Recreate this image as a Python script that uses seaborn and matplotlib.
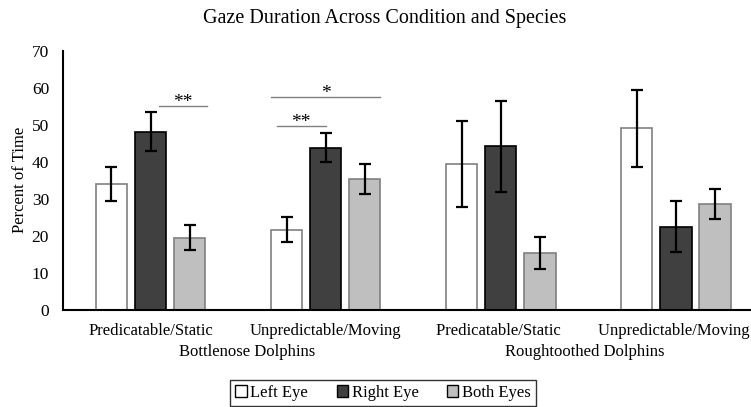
import seaborn as sns
import matplotlib.pyplot as plt
import numpy as np
import pandas as pd

# values
conditions = ["Predicatable/Static", "Unpredictable/Moving",
              "Predicatable/Static ", "Unpredictable/Moving "]
species = ["Bottlenose Dolphins", "Roughtoothed Dolphins"]
eyes = ["Left Eye", "Right Eye", "Both Eyes"]

left_eye = [33.9, 21.7, 39.4, 49.0]
right_eye = [48.1, 43.8, 44.2, 22.5]
both_eyes = [19.5, 35.3, 15.3, 28.6]

left_err = [4.6, 3.4, 11.6, 10.4]
right_err = [5.2, 4.0, 12.3, 6.8]
both_err = [3.3, 4.1, 4.3, 4.0]

# significance bars: (x start, x end, y, label)
sig_x0 = [0.05, 0.72, 0.69]
sig_x1 = [0.32, 1.00, 1.31]
sig_y = [55.0, 49.7, 57.4]
sig_text = ["**", "**", "*"]

df = pd.DataFrame({
    "condition": conditions * 3,
    "eye": np.repeat(eyes, 4),
    "value": left_eye + right_eye + both_eyes,
})

plt.rcParams['font.family'] = ['Liberation Serif', 'DejaVu Serif']

fig = plt.figure(figsize=(7.51, 4.07), dpi=100)
ax = fig.add_axes([0.0839, 0.2383, 0.9327, 0.6376])

fills = ["#ffffff", "#404040", "#bfbfbf"]
edges = ["#808080", "#000000", "#808080"]

sns.barplot(data=df, x="condition", y="value", hue="eye", order=conditions,
            hue_order=eyes, palette=fills, width=0.67, gap=0.2,
            errorbar=None, ax=ax, legend=False)

# per-hue edge colours and error bars
bar_sets = list(ax.containers)
all_errs = [left_err, right_err, both_err]
for i, cont in enumerate(bar_sets):
    xs, ys = [], []
    for bar in cont:
        bar.set_edgecolor(edges[i])
        bar.set_linewidth(1.2)
        xs.append(bar.get_x() + bar.get_width() / 2)
        ys.append(bar.get_height())
    ax.errorbar(xs, ys, yerr=all_errs[i], fmt="none", ecolor="black",
                elinewidth=1.6, capsize=4, capthick=1.6, zorder=5)

for x0, x1, y, t in zip(sig_x0, sig_x1, sig_y, sig_text):
    ax.plot([x0, x1], [y, y], color="#808080", lw=1.0)
    ax.text((x0 + x1) / 2, y - 1.4, t, ha="center", va="bottom",
            fontsize=14)

ax.set_xlim(-0.5, 3.5)
ax.set_ylim(0, 70)
ax.set_yticks(range(0, 71, 10))
ax.tick_params(axis="both", length=0, labelsize=12, colors="black")
ax.tick_params(axis="y", labelsize=12.5, pad=10)
ax.tick_params(axis="x", pad=9)
ax.set_xlabel("")
ax.set_ylabel("Percent of Time", fontsize=12)
ax.yaxis.set_label_coords(-0.05, 0.5)
for s in ["top", "right"]:
    ax.spines[s].set_visible(False)
for s in ["left", "bottom"]:
    ax.spines[s].set_color("black")
    ax.spines[s].set_linewidth(1.5)

# species labels below the conditions
ax.text(0.55, -0.16, species[0], transform=ax.get_xaxis_transform(),
        ha="center", va="center", fontsize=12)
ax.text(2.48, -0.16, species[1], transform=ax.get_xaxis_transform(),
        ha="center", va="center", fontsize=12)

fig.text(0.512, 0.955, "Gaze Duration Across Condition and Species",
         ha="center", va="center", fontsize=14.5)

handles = [plt.Rectangle((0, 0), 1, 1, facecolor=f, edgecolor="black", lw=1)
           for f in fills]
fig.legend(handles, eyes, loc="upper center", bbox_to_anchor=(0.51, 0.088),
           ncol=3, frameon=True, fancybox=False, edgecolor="black",
           fontsize=12, handlelength=0.7, handleheight=0.7,
           handletextpad=0.2, columnspacing=1.7, borderpad=0.3)

fig.savefig("out.png", dpi=100)
